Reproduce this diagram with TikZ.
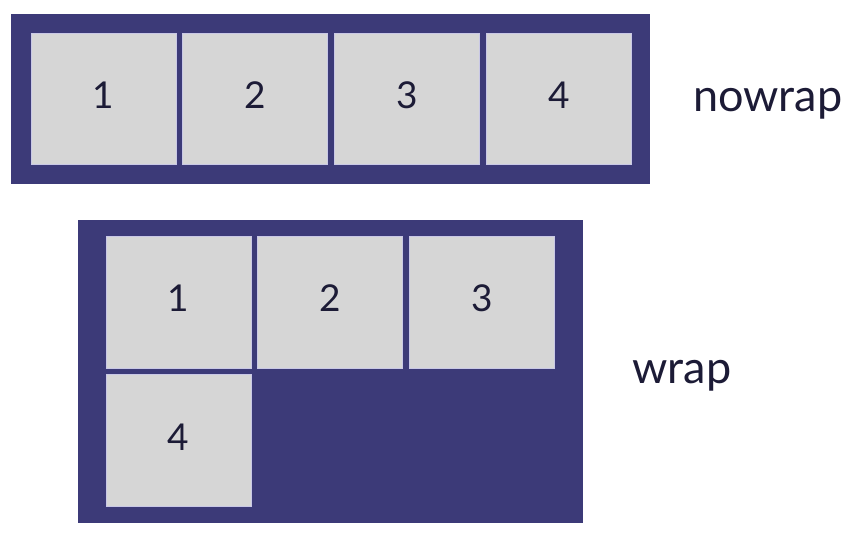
\documentclass[tikz,border=0pt]{standalone}
\usepackage{fontspec}
\setmainfont{Lato}
\usetikzlibrary{positioning}

\definecolor{flexblue}{HTML}{3C3A78}
\definecolor{itemgray}{HTML}{D6D6D6}
\definecolor{itemedge}{HTML}{C9C8E6}
\definecolor{textnavy}{HTML}{1C1B36}

\begin{document}
\begin{tikzpicture}[x = 1pt, y = -1pt, node distance = 6pt,
	flexbox/.style = {fill = flexblue, inner sep = 0pt},
	item/.style = {draw = itemedge, line width = 0.8pt, fill = itemgray, inner sep = 0pt,
		minimum width = 145pt, minimum height = 131pt, text depth = 7pt,
		text = textnavy, font = \fontsize{37}{37}\selectfont},
	label/.style = {text = textnavy, inner sep = 0pt, font = \fontsize{45}{45}\selectfont}]
	\useasboundingbox (0,0) rectangle (862,542);
	% nowrap row
	\node [flexbox, minimum width = 639pt, minimum height = 170pt] (nowrap) at (330.5,99) {};
	\node [item] (n1) at (103.5,98.5) {1};
	\node [item, right = of n1] (n2) {2};
	\node [item, right = of n2] (n3) {3};
	\node [item, right = of n3] (n4) {4};
	\node [label, anchor = base west] (nowraplabel) at (693,111) {nowrap};
	% wrap container
	\node [flexbox, minimum width = 505pt, minimum height = 303pt] (wrap) at (330.5,371.5) {};
	\node [item, minimum height = 132pt] (w1) at (178.5,302) {1};
	\node [item, minimum height = 132pt, right = of w1] (w2) {2};
	\node [item, minimum height = 132pt, right = of w2] (w3) {3};
	\node [item, minimum height = 132pt, below = of w1] (w4) {4};
	\node [label, anchor = base west] (wraplabel) at (632,383) {wrap};
\end{tikzpicture}
\end{document}
